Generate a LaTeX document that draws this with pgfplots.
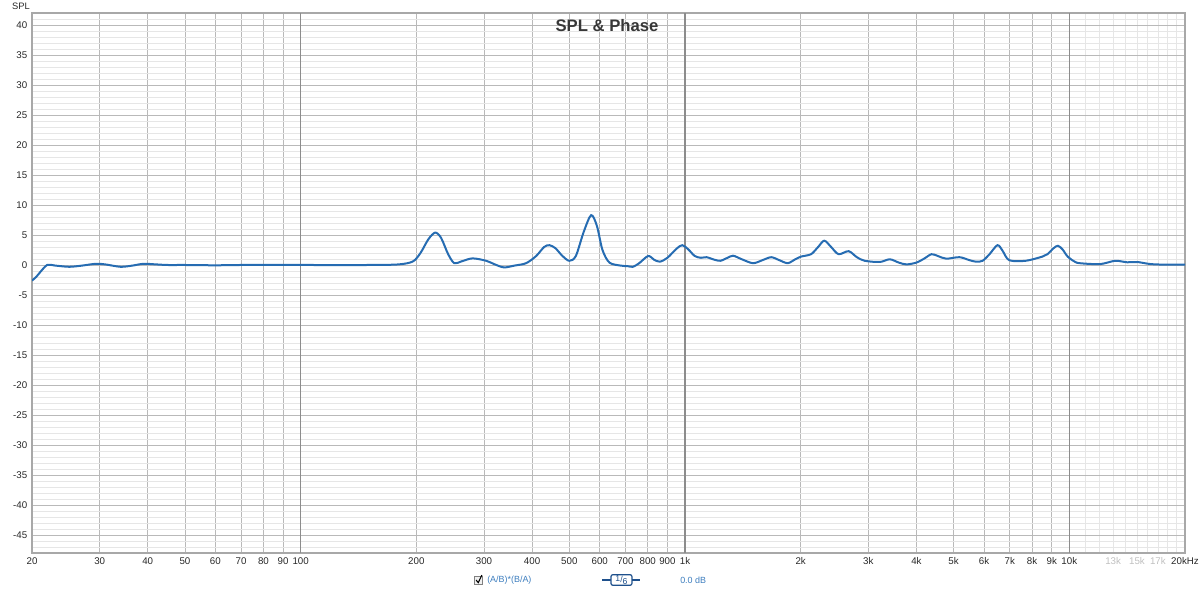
\documentclass[border=0pt]{standalone}
\usepackage{pgfplots}
\pgfplotsset{compat=1.18}
\usepackage{fontspec}
\setmainfont{Liberation Sans}
\definecolor{curve}{RGB}{38,108,178}
\definecolor{legblue}{RGB}{60,125,190}
\definecolor{legdark}{RGB}{30,80,140}
\definecolor{framec}{RGB}{168,168,168}
\definecolor{gridmaj}{RGB}{185,185,185}
\definecolor{gridmin}{RGB}{230,230,230}
\definecolor{griddec}{RGB}{140,140,140}
\definecolor{tickc}{RGB}{40,40,40}
\definecolor{titlec}{RGB}{55,55,55}
\begin{document}
\begin{tikzpicture}
\useasboundingbox (-24pt,-28.5pt) rectangle (876pt,414.75pt);
\begin{axis}[
  at={(0pt,0pt)}, anchor=south west,
  scale only axis, width=864.75pt, height=405pt,
  xmode=log, xmin=20, xmax=20000, ymin=-48, ymax=42,
  xtick={20,30,40,50,60,70,80,90,100,200,300,400,500,600,700,800,900,1000,2000,3000,4000,5000,6000,7000,8000,9000,10000,20000},
  xticklabels={20,30,40,50,60,70,80,90,100,200,300,400,500,600,700,800,900,1k,2k,3k,4k,5k,6k,7k,8k,9k,10k,20kHz},
  minor xtick={11000,12000,13000,14000,15000,16000,17000,18000,19000},
  extra x ticks={13000,15000,17000},
  extra x tick labels={13k,15k,17k},
  extra x tick style={grid=none, xticklabel style={text=gray!50}},
  ytick={-45,-40,...,40},
  minor ytick={-48,-47,...,42},
  grid=both,
  major grid style={draw=gridmaj, line width=0.6pt},
  minor grid style={draw=gridmin, line width=0.5pt},
  major tick length=0pt, minor tick length=0pt,
  axis line style={draw=framec, line width=1.5pt},
  ticklabel style={font=\fontsize{7.3}{8.5}\selectfont, text=tickc},
  /pgf/number format/assume math mode=true,
  clip=true,
]
\draw[draw=griddec, line width=0.8pt] (100,-48) -- (100,42);
\draw[draw=griddec, line width=0.8pt] (1000,-48) -- (1000,42);
\draw[draw=griddec, line width=0.8pt] (10000,-48) -- (10000,42);
\addplot[curve, line width=1.5pt, smooth, tension=0.5, no markers] coordinates {
(20,-2.6) (20.5,-2.0) (21,-1.2) (21.9,0.0) (23,-0.1) (25,-0.3) (27,-0.1) (29.3,0.2) (31,0.1)
(34,-0.3) (36.5,-0.1) (39,0.2) (42,0.1) (45,0.0) (50,0.0) (60,-0.05) (70,0.0) (100,0.0)
(150,0.0) (180,0.1) (196,0.6) (205,2.0) (215,4.3) (224,5.4) (232,4.5) (242,1.8) (251,0.3)
(262,0.6) (280,1.1) (304,0.7) (320,0.1) (338,-0.4) (360,-0.1) (386,0.3) (410,1.5) (430,3.0)
(444,3.3) (460,2.8) (480,1.5) (500,0.7) (520,1.5) (545,5.5) (570,8.3) (590,6.5) (610,2.5)
(636,0.4) (680,-0.1) (710,-0.2) (732,-0.3) (760,0.3) (802,1.5) (830,0.9) (860,0.55) (900,1.2)
(950,2.7) (984,3.3) (1020,2.6) (1060,1.5) (1100,1.2) (1138,1.3) (1190,0.9) (1236,0.7)
(1290,1.2) (1334,1.55) (1400,1.0) (1502,0.3) (1590,0.8) (1676,1.3) (1760,0.8) (1850,0.3)
(1930,0.9) (2004,1.4) (2128,1.8) (2220,3.0) (2304,4.05) (2400,3.0) (2510,1.8) (2666,2.3)
(2800,1.3) (2936,0.7) (3212,0.5) (3410,0.95) (3600,0.4) (3768,0.1) (4000,0.4) (4200,1.1)
(4378,1.8) (4550,1.5) (4780,1.05) (5178,1.3) (5500,0.8) (5720,0.55) (5946,0.7) (6200,1.8)
(6500,3.3) (6700,2.4) (6976,0.8) (7700,0.7) (8510,1.4) (8770,1.8) (9100,2.8) (9340,3.2)
(9600,2.6) (9900,1.4) (10300,0.6) (10640,0.3) (12020,0.15) (13160,0.7) (14140,0.45)
(15020,0.5) (16280,0.15) (18000,0.05) (20000,0.05)
};
\end{axis}
\node[font=\bfseries\fontsize{12.5}{14}\selectfont, text=titlec] at (431.25pt,395.6pt) {SPL \& Phase};
\node[font=\fontsize{7}{8}\selectfont, text=tickc] at (-8.25pt,410.25pt) {SPL};
% legend row
\draw[draw=gray, fill=gray!12, line width=0.5pt] (332pt,-23.25pt) rectangle (338pt,-17.25pt);
\draw[black, line width=0.8pt] (333.1pt,-20.3pt) -- (334.7pt,-22.2pt) -- (337.4pt,-16.6pt);
\node[anchor=west, text=legblue, font=\fontsize{6.7}{8}\selectfont, inner sep=0pt] at (341.25pt,-20.25pt) {(A/B)*(B/A)};
\draw[legdark, line width=0.9pt] (427.5pt,-20.25pt) -- (456pt,-20.25pt);
\node[draw=legdark, fill=white, rounded corners=1.5pt, line width=0.9pt, minimum width=15.75pt, minimum height=8pt, inner sep=0pt, font=\fontsize{6.5}{7}\selectfont, text=legdark] at (442.1pt,-20.25pt) {\raisebox{0.8pt}{1}/\raisebox{-0.8pt}{6}};
\node[anchor=west, text=legblue, font=\fontsize{6.7}{8}\selectfont, inner sep=0pt] at (486pt,-20.25pt) {0.0 dB};
\end{tikzpicture}
\end{document}
